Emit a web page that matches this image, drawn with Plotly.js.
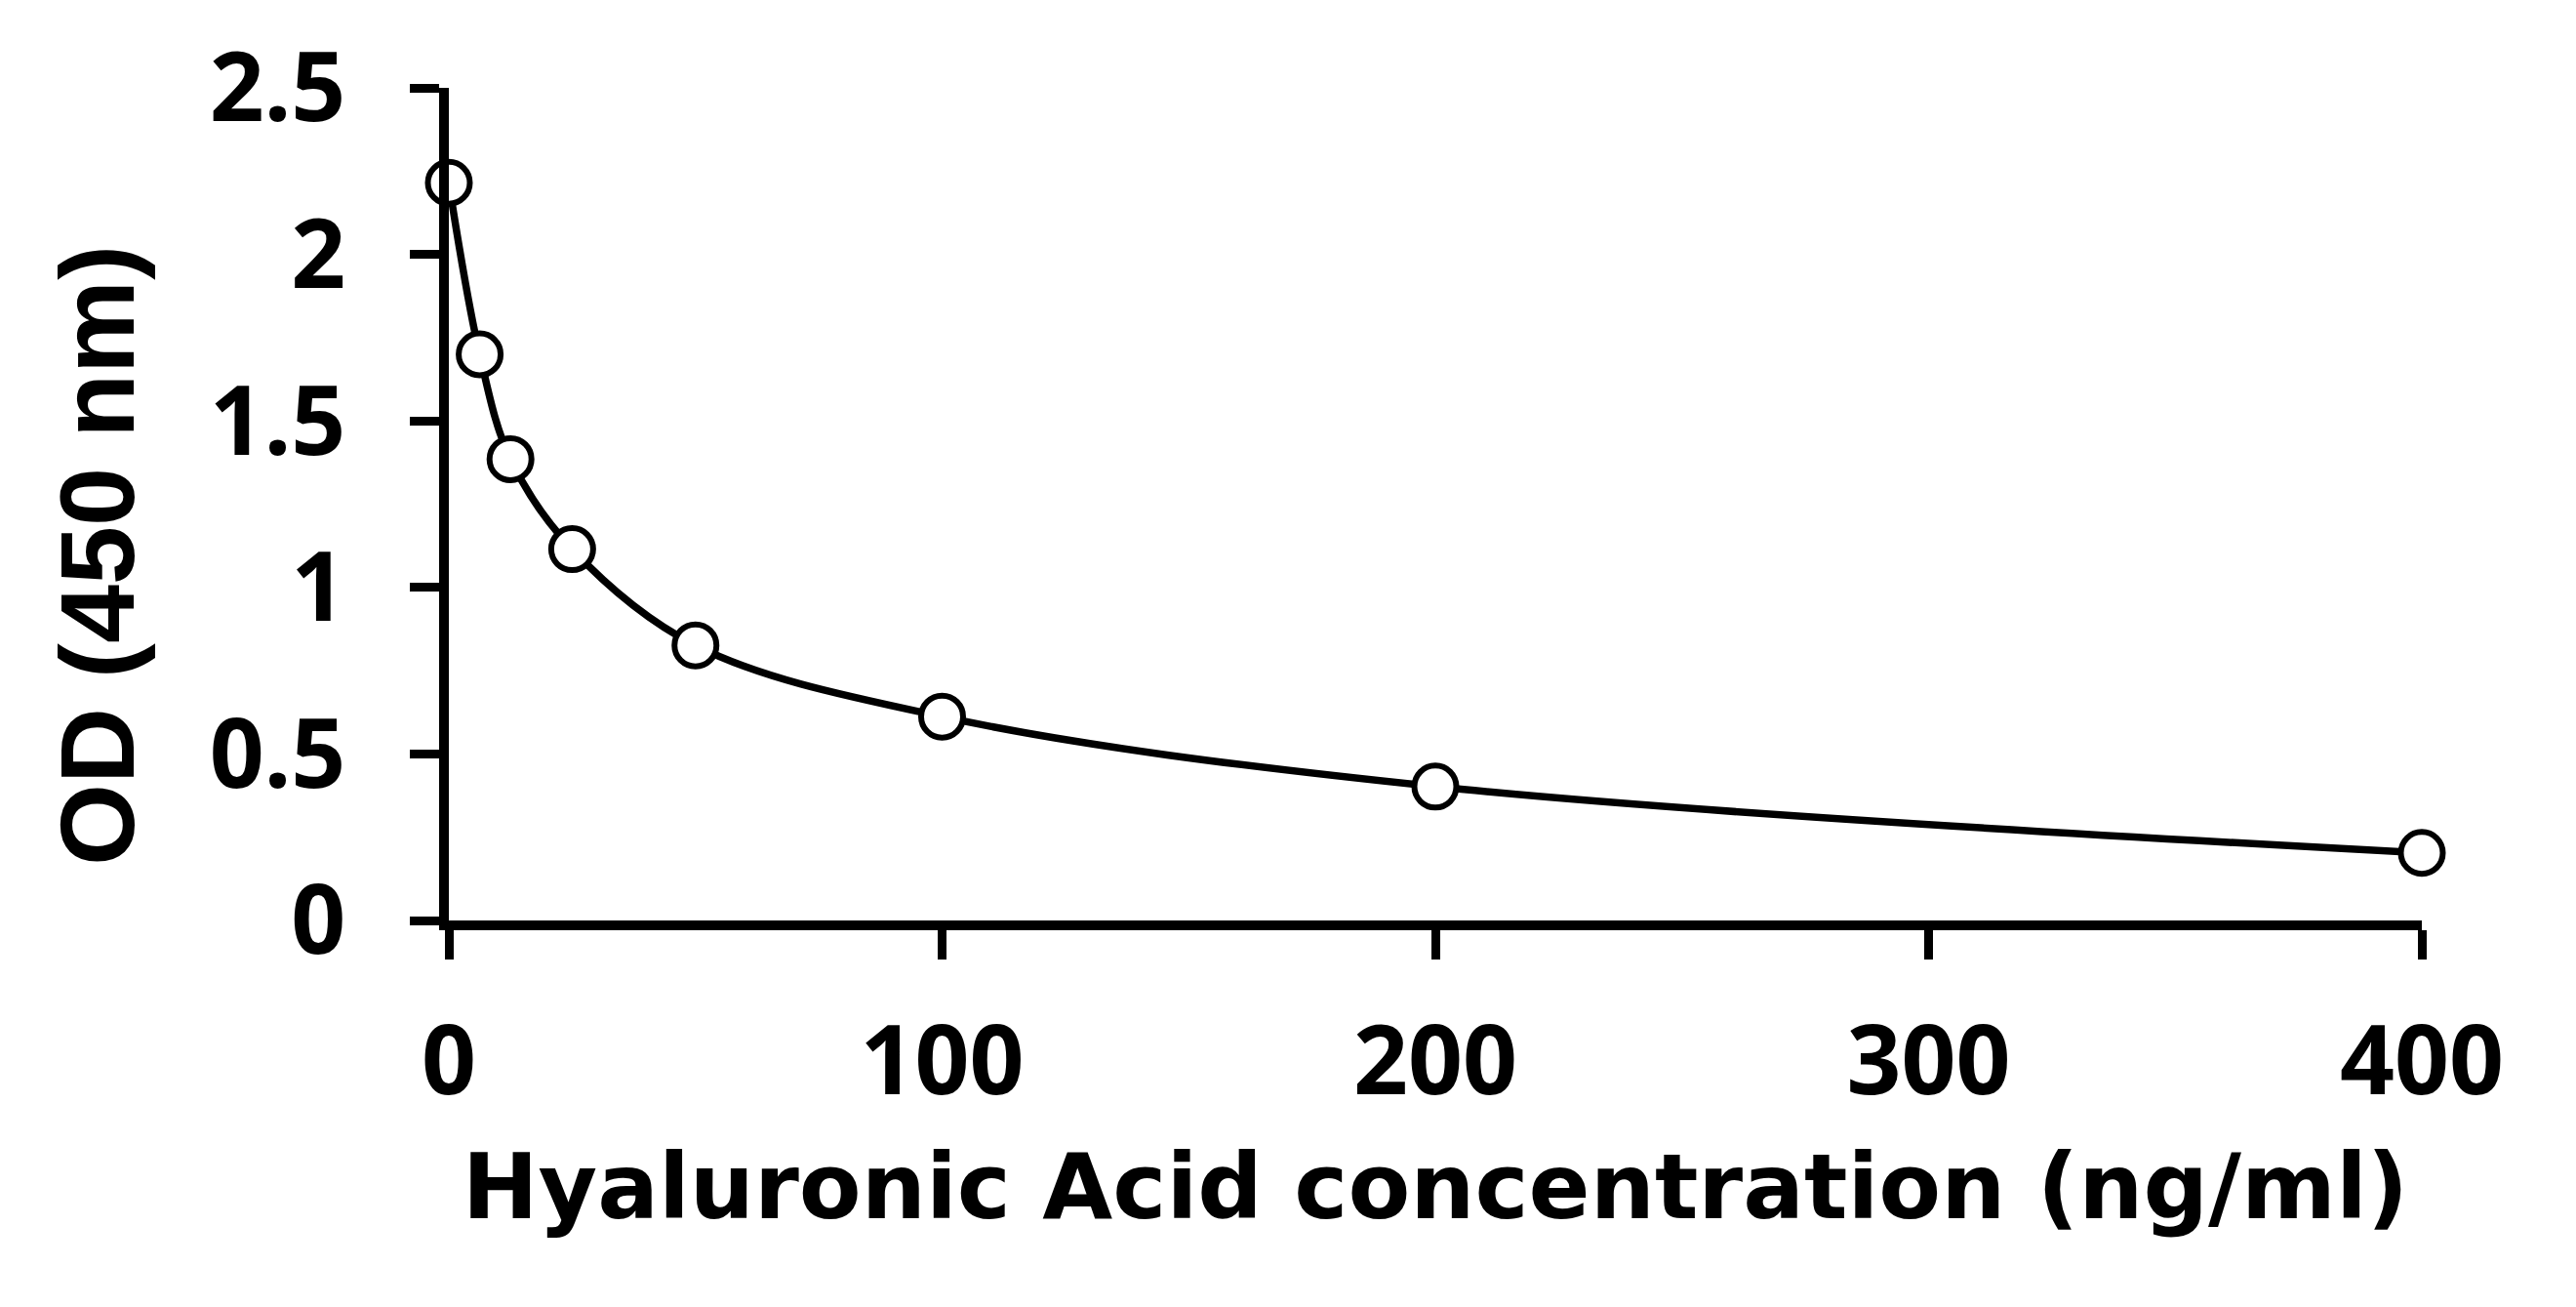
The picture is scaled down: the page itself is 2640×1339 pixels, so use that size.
<!DOCTYPE html>
<html>
<head>
<meta charset="utf-8">
<script src="https://cdn.plot.ly/plotly-3.0.1.min.js"></script>
<style>
  html, body { margin: 0; padding: 0; background: #fff; }
  #chart { width: 2640px; height: 1339px; }
</style>
</head>
<body>
<div id="chart"></div>
<script>
// Data
const concentration = [0, 6.25, 12.5, 25, 50, 100, 200, 400];   // ng/ml
const od450 = [2.215, 1.70, 1.385, 1.115, 0.826, 0.612, 0.402, 0.203];
const xTickValues = [0, 100, 200, 300, 400];
const yTickValues = [0, 0.5, 1, 1.5, 2, 2.5];
const yTickLabels = ['0', '0.5', '1', '1.5', '2', '2.5'];
const xTitle = 'Hyaluronic Acid concentration (ng/ml)';
const yTitle = 'OD (450 nm)';

const curve = {
  x: concentration,
  y: od450,
  type: 'scatter',
  mode: 'lines',
  line: { color: '#000', width: 7.5, shape: 'spline', smoothing: 1 },
  hoverinfo: 'skip',
  showlegend: false
};
const points = {
  x: concentration,
  y: od450,
  type: 'scatter',
  mode: 'markers',
  marker: { symbol: 'circle', size: 43, color: '#fff', line: { color: '#000', width: 6 } },
  cliponaxis: false,
  showlegend: false
};

const tickFont = { family: 'Noto Sans, Open Sans, sans-serif', size: 98, color: '#000', weight: 700 };

const layout = {
  width: 2640,
  height: 1339,
  paper_bgcolor: '#fff',
  plot_bgcolor: '#fff',
  margin: { l: 460, r: 158, t: 90, b: 396, pad: 0 },
  showlegend: false,
  xaxis: {
    range: [0, 400],
    tickvals: xTickValues,
    ticktext: xTickValues.map(String),
    showgrid: false,
    zeroline: false,
    showline: true,
    linecolor: '#000',
    linewidth: 10,
    ticks: 'outside',
    ticklen: 30,
    tickwidth: 9,
    tickcolor: '#000',
    tickfont: tickFont,
    ticklabelstandoff: 20,
    title: {
      text: xTitle,
      font: { family: 'DejaVu Sans, sans-serif', size: 93, color: '#000', weight: 700 },
      standoff: 38
    }
  },
  yaxis: {
    range: [0, 2.5],
    tickvals: yTickValues,
    ticktext: yTickLabels,
    showgrid: false,
    zeroline: false,
    showline: true,
    linecolor: '#000',
    linewidth: 10,
    ticks: 'outside',
    ticklen: 30,
    tickwidth: 9,
    tickcolor: '#000',
    tickfont: tickFont,
    ticklabelstandoff: 46
  },
  annotations: [{
    text: yTitle,
    xref: 'paper', yref: 'paper',
    x: -0.178, y: 0.4385,
    xanchor: 'center', yanchor: 'middle',
    textangle: -90,
    showarrow: false,
    font: { family: 'Liberation Sans, Arial, sans-serif', size: 108, color: '#000', weight: 700 }
  }]
};

Plotly.newPlot('chart', [curve, points], layout, { staticPlot: true, displayModeBar: false });
</script>
</body>
</html>
